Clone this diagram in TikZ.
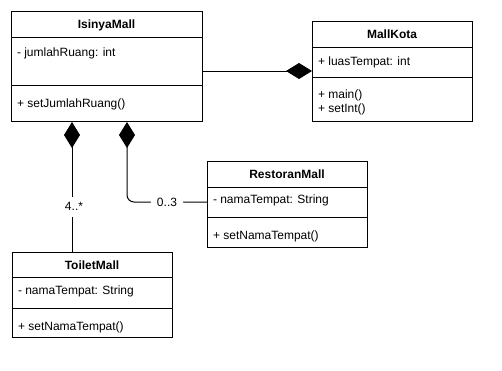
\documentclass[tikz,border=0pt]{standalone}
\usepackage{fontspec}
\setmainfont{Liberation Sans}
\usetikzlibrary{arrows.meta}

\tikzset{
  clase/.style={draw, line width=1pt, anchor=north west, inner sep=0pt},
  titulo/.style={anchor=base, font=\fontsize{12}{14}\selectfont\bfseries, inner sep=0pt},
  miembro/.style={anchor=base west, inner sep=0pt},
  multip/.style={fill=white, inner xsep=6pt, inner ysep=0pt, minimum height=20pt},
  compo/.style={line width=1pt, {Diamond[length=26pt,width=16pt]}-},
}

\begin{document}
\begin{tikzpicture}[x=1pt, y=-1pt, line width=1pt, font=\fontsize{12}{14}\selectfont]
    \useasboundingbox (0,0) rectangle (502,370);
    % Clases: nombre/titulo/x/arriba/cabecera/division/abajo/ancho
    \foreach \n/\t/\x/\ya/\yb/\yc/\yd/\w in {
        isinya/IsinyaMall/11/11/37/85/121/191,
        kota/MallKota/312/21/47/77/121/160,
        restoran/RestoranMall/207/161/187/217/247/160,
        toilet/ToiletMall/12/252/277/308/337/160}{
        \node[clase, minimum width={\w*1pt}, minimum height={(\yd-\ya)*1pt}] (\n) at (\x,\ya) {};
        \draw (\n.west |- 0,\yb) -- (\n.east |- 0,\yb);
        \draw (\n.west |- 0,\yc) -- (\n.east |- 0,\yc);
        \node[titulo] (\n-titulo) at ({\x+\w/2},{(\ya+\yb)/2+4.5}) {\t};
    }
    % Atributos y metodos
    \node[miembro] (isinya-a) at (16.5,56.5) {- jumlahRuang: int};
    \node[miembro] (isinya-o) at (16.5,107) {+ setJumlahRuang()};
    \node[miembro] (kota-a) at (317.5,65) {+ luasTempat: int};
    \node[miembro] (kota-o1) at (317.5,98.5) {+ main()};
    \node[miembro] (kota-o2) at (317.5,112.5) {+ setInt()};
    \node[miembro] (restoran-a) at (212.5,203.5) {- namaTempat: String};
    \node[miembro] (restoran-o) at (212.5,239) {+ setNamaTempat()};
    \node[miembro] (toilet-a) at (17.5,294.5) {- namaTempat: String};
    \node[miembro] (toilet-o) at (17.5,330) {+ setNamaTempat()};
    % Composiciones
    \draw[compo] (kota.west |- 0,71) -- (isinya.east |- 0,71);
    \draw[compo] (isinya.south -| 72,0) -- node[multip, pos=0.65, xshift=2pt] (m-toilet) {4..*} (toilet.north -| 72,0);
    \draw[compo, rounded corners=7pt] (isinya.south -| 127,0) |- node[multip, pos=0.75] (m-restoran) {0..3} (restoran.west |- 0,202);
\end{tikzpicture}
\end{document}
